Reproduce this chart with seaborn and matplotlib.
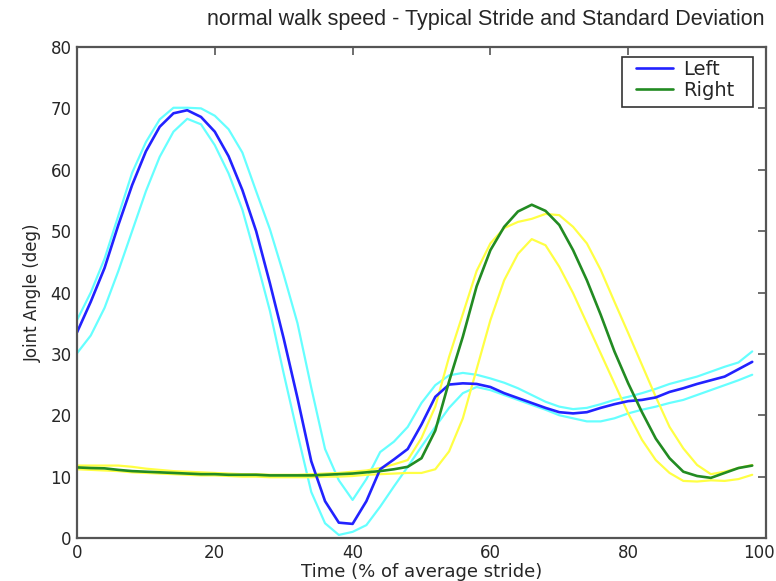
import matplotlib
matplotlib.use("Agg")
import matplotlib.pyplot as plt
import matplotlib.patches as mpatches
import matplotlib.transforms as mtransforms
import seaborn as sns
import numpy as np
import pandas as pd

time_pct = list(range(0, 100, 2))

left_mean = [33.5, 38.5, 44, 51, 57.5, 63, 67, 69.2, 69.7, 68.6,
             66.2, 62.2, 56.7, 50, 41.5, 32.5, 22.8, 12.5, 6, 2.5,
             2.3, 6, 11.2, 12.8, 14.5, 18.5, 23, 25, 25.2, 25.1,
             24.6, 23.6, 22.8, 22, 21.2, 20.5, 20.3, 20.5, 21.2, 21.8,
             22.3, 22.5, 22.9, 23.8, 24.4, 25.1, 25.7, 26.3, 27.5, 28.7]
left_upper = [35.5, 40, 45.5, 52.5, 59.5, 64.5, 68.2, 70.1, 70.1, 70,
              68.8, 66.6, 62.8, 56.5, 50.3, 42.9, 35, 24.5, 14.5, 9.4,
              6.2, 9.6, 14, 15.7, 18.1, 22, 24.9, 26.5, 26.9, 26.6,
              26, 25.3, 24.4, 23.3, 22.2, 21.4, 21, 21.2, 21.8, 22.5,
              23, 23.6, 24.3, 25.1, 25.7, 26.3, 27.1, 27.9, 28.6, 30.4]
left_lower = [30.1, 33, 37.5, 43.5, 50, 56.5, 62.1, 66.2, 68.3, 67.4,
              64, 59.4, 53.5, 45.5, 37, 26.8, 17, 7.5, 2.4, 0.5,
              1, 2.1, 5.1, 8.4, 11.6, 14.9, 18.1, 21.2, 23.6, 24.6,
              24.1, 23.3, 22.5, 21.7, 20.9, 20, 19.5, 19, 19, 19.5,
              20.3, 20.9, 21.4, 22, 22.5, 23.3, 24.1, 24.9, 25.7, 26.6]

right_mean = [11.5, 11.4, 11.35, 11.1, 10.9, 10.8, 10.7, 10.6, 10.5, 10.4,
              10.4, 10.3, 10.3, 10.3, 10.2, 10.2, 10.2, 10.2, 10.3, 10.4,
              10.5, 10.7, 10.9, 11.2, 11.6, 13, 17.5, 25.5, 32.8, 41,
              46.9, 50.7, 53.2, 54.3, 53.3, 51, 46.9, 42, 36.4, 30.4,
              25.2, 20.5, 16.2, 13, 10.8, 10.1, 9.8, 10.6, 11.4, 11.8]
right_upper = [11.8, 11.8, 11.8, 11.8, 11.6, 11.3, 11.1, 10.9, 10.8, 10.7,
               10.6, 10.5, 10.4, 10.4, 10.3, 10.3, 10.3, 10.4, 10.5, 10.6,
               10.8, 11, 11.4, 12, 12.7, 16.3, 21.4, 29.5, 36.5, 43.5,
               48, 50.5, 51.5, 52, 52.8, 52.6, 50.7, 48, 43.7, 38.5,
               33.4, 28.2, 23, 18.1, 14.6, 11.9, 10.4, 10.8, 11.4, 11.9]
right_lower = [11.2, 11.1, 11, 10.9, 10.7, 10.6, 10.5, 10.4, 10.3, 10.2,
               10.2, 10.1, 10, 10, 9.9, 9.9, 9.9, 9.9, 10, 10,
               10.1, 10.3, 10.4, 10.5, 10.6, 10.6, 11.2, 14.1, 19.5, 27.5,
               35.5, 42, 46.3, 48.7, 47.7, 44.2, 39.9, 35, 30.1, 25.2,
               20.3, 16, 12.7, 10.6, 9.3, 9.2, 9.4, 9.3, 9.6, 10.3]

x_ticks = [0, 20, 40, 60, 80, 100]
y_ticks = [0, 10, 20, 30, 40, 50, 60, 70, 80]
title_text = "normal walk speed - Typical Stride and Standard Deviation"
x_label = "Time (% of average stride)"
y_label = "Joint Angle (deg)"

sns.set_style("white")
plt.rcParams['font.family'] = ['DejaVu Sans']

W, H = 776, 581
fig = plt.figure(figsize=(W / 100, H / 100), dpi=100)
ax = fig.add_axes([77 / W, 1 - 538 / H, (766 - 77) / W, (538 - 47) / H])

def line(y, color, lw, label=None):
    df = pd.DataFrame({"t": time_pct, "v": y})
    sns.lineplot(data=df, x="t", y="v", ax=ax, color=color, linewidth=lw,
                 label=label, legend=False, estimator=None)

line(left_upper, "#66ffff", 1.6)
line(left_lower, "#66ffff", 1.6)
line(right_upper, "#ffff44", 1.6)
line(right_lower, "#ffff44", 1.6)
line(left_mean, "#2222ff", 1.9, "Left")
line(right_mean, "#228b22", 1.9, "Right")

ax.set_xlim(0, 100)
ax.set_ylim(0, 80)
ax.set_xticks(x_ticks)
ax.set_yticks(y_ticks)
ax.tick_params(direction="in", top=True, right=True, length=6, width=1.2,
               color="#555555", labelsize=12, pad=4)
for s in ax.spines.values():
    s.set_color("#555555")
    s.set_linewidth(1.6)
ax.set_xlabel(x_label, fontsize=13, labelpad=1)
ax.set_ylabel(y_label, fontsize=12, labelpad=6)

# nudge the last x tick label slightly left so it stays inside the canvas
fig.canvas.draw()
last_lbl = ax.get_xticklabels()[-1]
last_lbl.set_transform(last_lbl.get_transform() +
                       mtransforms.ScaledTranslation(-7 / 100, 0, fig.dpi_scale_trans))

fig.text(207 / W, 1 - 20 / H, title_text, ha="left", va="center", fontsize=15.5,
         family=["Liberation Sans", "DejaVu Sans"])

frame = mpatches.Rectangle((622 / W, 1 - 107 / H), 131 / W, 50 / H,
                           transform=fig.transFigure, facecolor="white",
                           edgecolor="#333333", linewidth=1.2, zorder=5)
fig.add_artist(frame)

handles, labels = ax.get_legend_handles_labels()
leg = fig.legend(handles, labels, loc="center left",
                 bbox_to_anchor=(636 / W, 1 - 80 / H),
                 bbox_transform=fig.transFigure, borderaxespad=0,
                 fontsize=14, frameon=False, handlelength=1.9,
                 borderpad=0, labelspacing=0.1, handletextpad=0.5)
leg.set_zorder(6)

fig.savefig("out.png", dpi=100)
